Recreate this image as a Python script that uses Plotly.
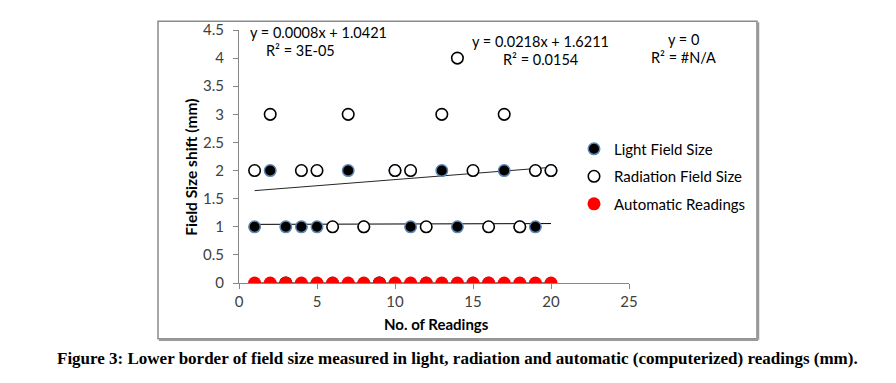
import numpy as np
import plotly.graph_objects as go

readings = list(range(1, 21))
light = [1, 2, 1, 1, 1, 0, 2, 1, 0, 2, 1, 0, 2, 1, 0, 0, 2, 1, 1, 2]
radiation = [2, 3, 0, 2, 2, 1, 3, 1, 0, 2, 2, 1, 3, 4, 2, 1, 3, 1, 2, 2]
automatic = [0] * 20

series_names = ["Light Field Size", "Radiation Field Size", "Automatic Readings"]
x_ticks = [0, 5, 10, 15, 20, 25]
y_ticks = [0, 0.5, 1, 1.5, 2, 2.5, 3, 3.5, 4, 4.5]
eq_labels = [("y = 0.0008x + 1.0421", "R² = 3E-05"),
             ("y = 0.0218x + 1.6211", "R² = 0.0154"),
             ("y = 0", "R² = #N/A")]

FONT = "Lato"
W, H = 896, 383
OFF = 8  # page body margin
L, R, T, B = 239, 629, 24, 283  # plot area edges in screen pixels
PW, PH = R - L, B - T


def px(x):
    return (x - L) / PW


def py(y):
    return (B - y) / PH


fig = go.Figure()

xr = np.array([min(readings), max(readings)], dtype=float)
for vals, col in [(light, "black"), (radiation, "#262626"), (automatic, "black")]:
    k, c = np.polyfit(readings, vals, 1)
    fig.add_trace(go.Scatter(x=xr, y=k * xr + c, mode="lines",
                             line=dict(color=col, width=1), showlegend=False,
                             hoverinfo="skip"))

fig.add_trace(go.Scatter(x=readings, y=light, mode="markers", name=series_names[0],
                         marker=dict(size=11.5, color="black",
                                     line=dict(color="#5f87b5", width=1.5))))
fig.add_trace(go.Scatter(x=readings, y=radiation, mode="markers", name=series_names[1],
                         marker=dict(size=11.5, color="white",
                                     line=dict(color="black", width=1.6))))
fig.add_trace(go.Scatter(x=readings, y=automatic, mode="markers", name=series_names[2],
                         marker=dict(size=13, color="#ff0000",
                                     line=dict(color="#ff0000", width=0))))

ann = []
eq_pos = [((248, 27), (300, 45), "left"), ((540, 36), (540, 54), "center"),
          ((683, 34), (683, 52), "center")]
for (l1, l2), ((x1, y1), (x2, y2), al) in zip(eq_labels, eq_pos):
    ann.append(dict(x=px(x1), y=py(y1), xref="paper", yref="paper", text=l1,
                    showarrow=False, xanchor="left" if al == "left" else "center",
                    yanchor="middle", font=dict(family=FONT, size=14.5, color="black")))
    ann.append(dict(x=px(x2), y=py(y2), xref="paper", yref="paper", text=l2,
                    showarrow=False, xanchor="center", yanchor="middle",
                    font=dict(family=FONT, size=14.5, color="black")))

ann.append(dict(x=px(436), y=py(325), xref="paper", yref="paper",
                text="<b>No. of Readings</b>", showarrow=False,
                xanchor="center", yanchor="middle",
                font=dict(family=FONT, size=15, color="black")))
ann.append(dict(x=px(191), y=py(165), xref="paper", yref="paper",
                text="<b>Field Size shift (mm)</b>", showarrow=False, textangle=-90,
                xanchor="center", yanchor="middle",
                font=dict(family=FONT, size=15.5, color="black")))
ann.append(dict(x=px(457), y=py(360), xref="paper", yref="paper",
                text="<b>Figure 3: Lower border of field size measured in light, radiation and automatic (computerized) readings (mm).</b>",
                showarrow=False, xanchor="center", yanchor="middle",
                font=dict(family="Liberation Serif", size=17, color="black")))

shapes = [
    dict(type="rect", xref="paper", yref="paper", x0=px(158), x1=px(757),
         y0=py(340), y1=py(15), line=dict(color="#8a8a8a", width=1.5)),
    dict(type="line", xref="paper", yref="paper", x0=px(758), x1=px(758),
         y0=py(341), y1=py(16), line=dict(color="#9a9a9a", width=2.5)),
    dict(type="line", xref="paper", yref="paper", x0=px(159), x1=px(758),
         y0=py(341), y1=py(341), line=dict(color="#9a9a9a", width=2.5)),
]

axis_common = dict(showgrid=False, zeroline=False, showline=True,
                   linecolor="#868686", linewidth=1, ticks="outside",
                   ticklen=5, tickcolor="#868686",
                   tickfont=dict(family=FONT, size=15, color="#404040"))

fig.update_layout(
    width=W, height=H,
    margin=dict(l=L - OFF, r=W - R + OFF, t=T - OFF, b=H - B + OFF),
    paper_bgcolor="white", plot_bgcolor="white",
    xaxis=dict(range=[0, 25], tickvals=x_ticks, **axis_common),
    yaxis=dict(range=[0, 4.5], tickvals=y_ticks, ticklabelstandoff=6, **axis_common),
    legend=dict(x=px(574), y=py(129), xanchor="left", yanchor="top",
                font=dict(family=FONT, size=15, color="black"),
                bgcolor="rgba(0,0,0,0)", tracegroupgap=5, itemwidth=30),
    annotations=ann, shapes=shapes, showlegend=True,
)
for i, tr in enumerate(fig.data):
    tr.legendgroup = f"g{i}"

fig.write_html("out.html")
